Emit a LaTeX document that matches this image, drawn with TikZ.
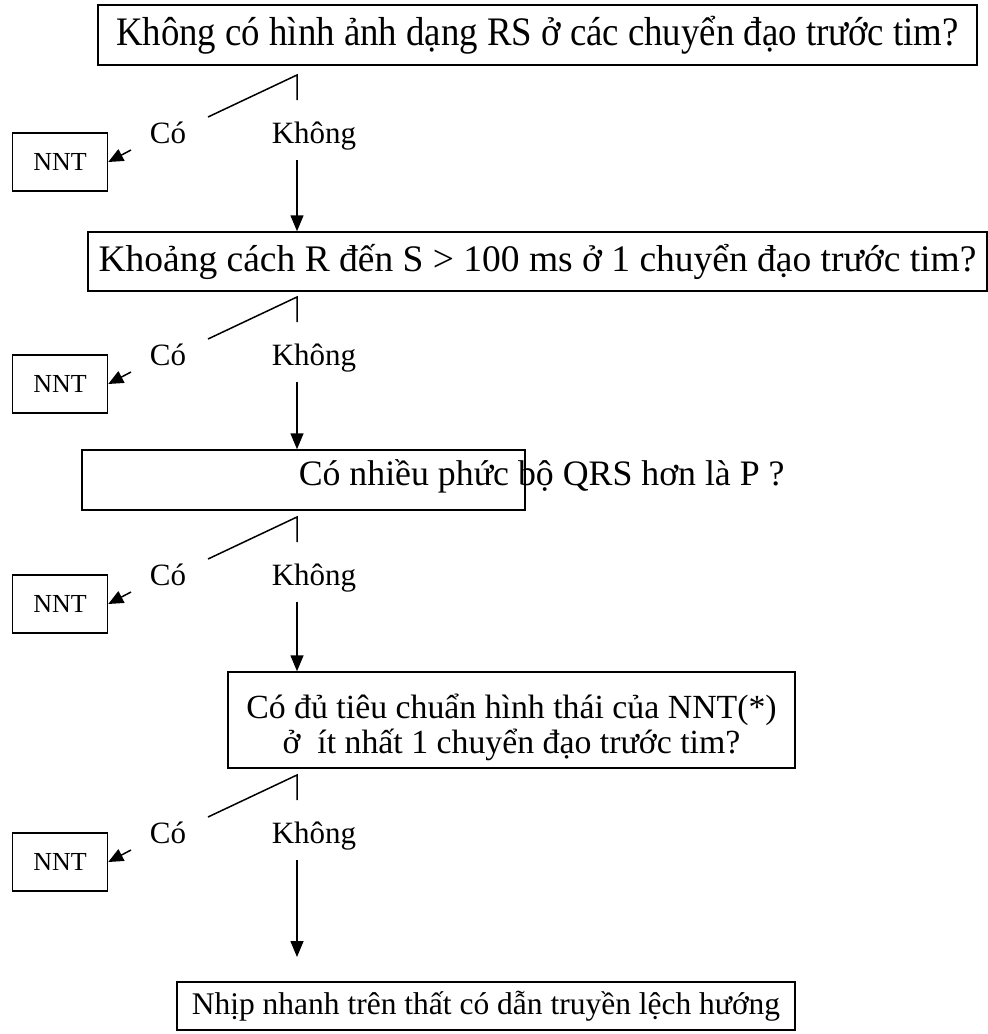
\documentclass[tikz,border=0pt]{standalone}
\usepackage{fontspec}
\usepackage{graphicx}
\setmainfont{Liberation Serif}
\usetikzlibrary{arrows.meta}
\begin{document}
\begin{tikzpicture}[x=1pt,y=-1pt,
  line width=1.5pt,
  qbox/.style={draw, rectangle, inner sep=0pt, align=center},
  nntbox/.style={draw, rectangle, inner sep=0pt, minimum width=95pt, minimum height=58pt, font=\fontsize{26}{30}\selectfont},
  lbl/.style={inner sep=0pt, anchor=base, font=\fontsize{31}{35}\selectfont},
  arr/.style={-{Triangle[length=16pt,width=13pt]}},
  sarr/.style={-{Triangle[length=15pt,width=13pt]}}
]
\useasboundingbox (0,0) rectangle (988,1034);

\node[qbox, minimum width=879pt, minimum height=60pt, font=\fontsize{36.8}{40}\selectfont] (b1) at (537.5,35) {\scalebox{1}[1.1]{Không có hình ảnh dạng RS ở các chuyển đạo trước tim?}};
\node[qbox, minimum width=899pt, minimum height=59pt, font=\fontsize{37.5}{40}\selectfont] (b2) at (537.5,261.5) {Khoảng cách R đến S > 100 ms ở 1 chuyển đạo trước tim?};
\node[qbox, minimum width=443pt, minimum height=60pt] (b3) at (303.5,480) {};
\node[inner sep=0pt, anchor=base west, font=\fontsize{35.8}{40}\selectfont] (b3t) at (298,485) {Có nhiều phức bộ QRS hơn là P ?};
\node[qbox, minimum width=567pt, minimum height=96pt, font=\fontsize{33.8}{35}\selectfont] (b4) at (511.5,720) {\rule{0pt}{40pt}Có đủ tiêu chuẩn hình thái của NNT(*)\\ở\ \ ít nhất 1 chuyển đạo trước tim?};
\node[qbox, minimum width=618pt, minimum height=48pt, font=\fontsize{31.5}{35}\selectfont] (b5) at (486,1006) {Nhịp nhanh trên thất có dẫn truyền lệch hướng};

\foreach \i/\T in {1/75,2/297,3/517,4/775}{
  \coordinate (t\i) at (297,\T);
  \coordinate (v\i) at (297,\T+25);
  \coordinate (d\i) at (208,\T+42);
  \coordinate (a\i) at (131,\T+75);
  \coordinate (s\i) at (297,\T+85);
  \node[lbl] (c\i) at (168,\T+68) {Có};
  \node[lbl] (k\i) at (314,\T+68) {Không};
  \node[nntbox] (n\i) at (60,\T+87) {NNT};
  \draw (d\i) -- (t\i) -- (v\i);
  \draw[sarr] (a\i) -- (n\i.east);
}
\coordinate (e5) at (297,957);
\draw[arr] (s1) -- (b2.north -| s1);
\draw[arr] (s2) -- (b3.north -| s2);
\draw[arr] (s3) -- (b4.north -| s3);
\draw[arr] (s4) -- (e5);
\end{tikzpicture}
\end{document}
